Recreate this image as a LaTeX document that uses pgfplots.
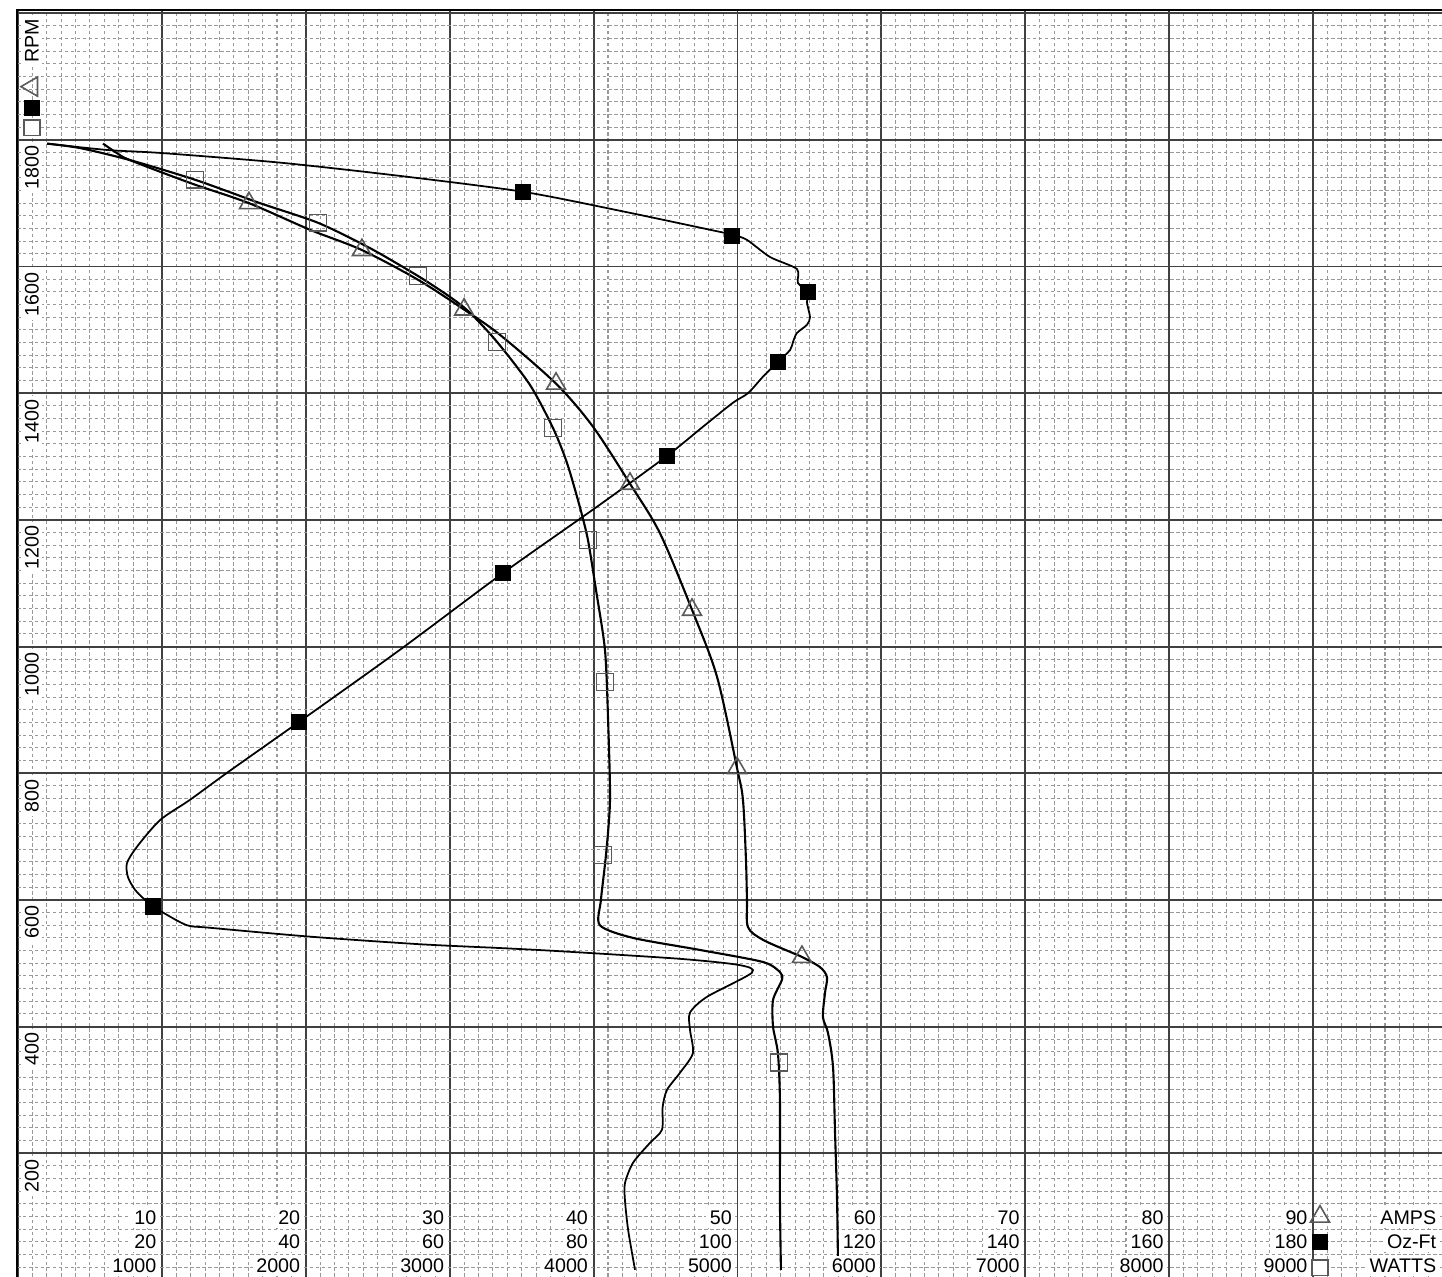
\documentclass[border=0pt]{standalone}
\usepackage{fontspec}
\setmainfont{Liberation Sans}
\usepackage{pgfplots}
\pgfplotsset{compat=1.18}
\usetikzlibrary{shapes.geometric}
\definecolor{mk}{gray}{0.35}
\begin{document}
\begin{tikzpicture}[font=\fontsize{5.6}{6.7}\selectfont,
  lbl/.style={fill=white, inner sep=1pt},
  tri/.style={regular polygon, regular polygon sides=3, draw=mk, line width=0.45pt, minimum size=2.2mm, inner sep=0pt},
  sqo/.style={rectangle, draw=mk, line width=0.45pt, minimum size=1.55mm, inner sep=0pt, fill=white},
  sqf/.style={rectangle, draw=black, fill=black, minimum size=1.45mm, inner sep=0pt}]
\begin{axis}[
  scale only axis, width=14.25cm, height=12.67cm,
  xmin=-0.07, xmax=98.96, ymin=4.7, ymax=2005,
  xtick={0,10,...,90}, ytick={0,200,...,2000},
  minor xtick={0,1,...,99}, minor ytick={0,20,...,2000},
  xticklabels={}, yticklabels={},
  major tick length=0pt, minor tick length=0pt,
  grid=both,
  major grid style={black!75, line width=0.55pt},
  minor grid style={black!40, line width=0.3pt, dash pattern=on 1pt off 0.7pt},
  axis line style={draw=none},
  clip=false,
]
% Oz-Ft curve (plotted on half scale: value/2)
\addplot[black, line width=0.5pt, smooth, tension=0.45] coordinates {
(2.02,1794) (6.18,1784) (10.08,1779) (18.21,1764) (26.55,1743) (35.09,1718)
(41.83,1688) (48.09,1658) (49.69,1650) (50.66,1642) (52.26,1615) (54.13,1596)
(54.20,1574) (54.90,1560) (54.83,1543) (55.04,1520) (54.83,1508) (54.13,1495)
(53.86,1481) (53.65,1468) (52.74,1448) (51.77,1426) (50.73,1400) (49.69,1385)
(47.60,1347) (45.10,1301) (40.44,1224) (33.70,1116) (26.55,995) (19.53,881)
(14.73,804) (11.95,758) (9.87,726) (8.27,684) (7.57,658) (7.64,636) (8.13,616)
(8.83,600) (9.38,590) (10.08,580) (11.74,560) (13.34,556) (20.29,542) (27.94,530)
(33.50,524) (37.66,519) (46.00,507) (50.17,497) (51.00,485) (47.88,447) (46.70,422)
(46.70,395) (46.90,358) (46.00,327) (45.10,300) (44.80,273) (44.75,237) (43.90,216)
(42.74,185) (42.18,153) (42.18,126) (42.40,79) (42.88,16)};
% WATTS curve (value/100)
\addplot[black, line width=0.6pt, smooth, tension=0.45] coordinates {
(2.02,1794) (4.31,1787) (7.78,1768) (12.30,1737) (16.82,1700) (20.85,1669)
(24.46,1629) (27.80,1585) (30.02,1552) (31.41,1527) (33.29,1481) (35.58,1413)
(37.18,1345) (38.15,1290) (39.05,1220) (39.61,1168) (40.17,1089) (40.79,995)
(41.00,889) (41.14,758) (40.86,671) (40.51,600) (40.44,560) (42.74,540)
(47.39,521) (51.77,502) (52.95,486) (53.09,474) (52.47,442) (52.47,400)
(52.81,358) (52.95,284) (52.95,126) (53.02,16)};
% AMPS curve
\addplot[black, line width=0.6pt, smooth, tension=0.5] coordinates {
(5.91,1794) (6.88,1779) (7.78,1768) (11.95,1732) (16.05,1700) (20.29,1658)
(23.90,1626) (27.80,1579) (31.00,1532) (33.50,1492) (37.39,1415) (39.96,1347)
(42.53,1257) (44.61,1179) (46.84,1058) (48.58,952) (49.97,808) (50.38,758)
(50.59,663) (50.66,600) (50.73,557) (51.77,537) (53.86,516) (54.48,510)
(55.73,494) (56.22,478) (56.08,453) (55.94,415) (56.29,390) (56.64,336)
(56.78,232) (56.92,126) (56.99,16)};
% markers
\addplot[only marks, mark=square*, mark size=2.15pt, mark options={fill=black, draw=black}] coordinates {
(35.09,1718) (49.62,1648) (54.90,1560) (52.81,1449) (45.10,1301) (33.70,1116) (19.53,881) (9.38,590)};
\addplot[only marks, mark=square, mark size=2.4pt, mark options={draw=mk, line width=0.45pt}] coordinates {
(12.30,1737) (20.85,1669) (27.80,1585) (33.29,1481) (37.18,1345) (39.61,1168) (40.79,944) (40.65,671) (52.88,343)};
\addplot[only marks, mark=triangle, mark size=3.1pt, mark options={draw=mk, line width=0.45pt}] coordinates {
(16.05,1700) (23.90,1626) (31.00,1532) (37.39,1415) (42.53,1257) (46.84,1058) (49.97,808) (54.48,510)};

% borders
\draw[black, line width=0.75pt] (rel axis cs:0,0) -- (rel axis cs:0,1) -- (rel axis cs:1,1);
\coordinate (SW) at (rel axis cs:0,0);
\coordinate (NE) at (rel axis cs:1,1);

% left rotated labels
\node[lbl, rotate=90, anchor=east] at (axis cs:0.97,1998) {RPM};
\node[tri, shape border rotate=90] at (axis cs:0.97,1884) {};
\node[sqf] at (axis cs:0.97,1850) {};
\node[sqo] at (axis cs:0.97,1819) {};
\node[lbl, rotate=90, anchor=east] at (axis cs:0.97,1797) {1800};
\node[lbl, rotate=90, anchor=east] at (axis cs:0.97,1597) {1600};
\node[lbl, rotate=90, anchor=east] at (axis cs:0.97,1397) {1400};
\node[lbl, rotate=90, anchor=east] at (axis cs:0.97,1197) {1200};
\node[lbl, rotate=90, anchor=east] at (axis cs:0.97,997) {1000};
\node[lbl, rotate=90, anchor=east] at (axis cs:0.97,797) {800};
\node[lbl, rotate=90, anchor=east] at (axis cs:0.97,597) {600};
\node[lbl, rotate=90, anchor=east] at (axis cs:0.97,397) {400};
\node[lbl, rotate=90, anchor=east] at (axis cs:0.97,197) {200};

% bottom scale labels
\node[lbl, anchor=east] at (axis cs:9.9,97.9) {10};
\node[lbl, anchor=east] at (axis cs:19.9,97.9) {20};
\node[lbl, anchor=east] at (axis cs:29.9,97.9) {30};
\node[lbl, anchor=east] at (axis cs:39.9,97.9) {40};
\node[lbl, anchor=east] at (axis cs:49.9,97.9) {50};
\node[lbl, anchor=east] at (axis cs:59.9,97.9) {60};
\node[lbl, anchor=east] at (axis cs:69.9,97.9) {70};
\node[lbl, anchor=east] at (axis cs:79.9,97.9) {80};
\node[lbl, anchor=east] at (axis cs:89.9,97.9) {90};
\node[lbl, anchor=east] at (axis cs:9.9,60) {20};
\node[lbl, anchor=east] at (axis cs:19.9,60) {40};
\node[lbl, anchor=east] at (axis cs:29.9,60) {60};
\node[lbl, anchor=east] at (axis cs:39.9,60) {80};
\node[lbl, anchor=east] at (axis cs:49.9,60) {100};
\node[lbl, anchor=east] at (axis cs:59.9,60) {120};
\node[lbl, anchor=east] at (axis cs:69.9,60) {140};
\node[lbl, anchor=east] at (axis cs:79.9,60) {160};
\node[lbl, anchor=east] at (axis cs:89.9,60) {180};
\node[lbl, anchor=east] at (axis cs:9.9,22) {1000};
\node[lbl, anchor=east] at (axis cs:19.9,22) {2000};
\node[lbl, anchor=east] at (axis cs:29.9,22) {3000};
\node[lbl, anchor=east] at (axis cs:39.9,22) {4000};
\node[lbl, anchor=east] at (axis cs:49.9,22) {5000};
\node[lbl, anchor=east] at (axis cs:59.9,22) {6000};
\node[lbl, anchor=east] at (axis cs:69.9,22) {7000};
\node[lbl, anchor=east] at (axis cs:79.9,22) {8000};
\node[lbl, anchor=east] at (axis cs:89.9,22) {9000};

% bottom-right legend
\node[tri] at (axis cs:90.48,100) {};
\node[sqf] at (axis cs:90.48,60) {};
\node[sqo] at (axis cs:90.48,19) {};
\node[lbl, anchor=east] at (axis cs:98.85,97.9) {AMPS};
\node[lbl, anchor=east] at (axis cs:98.85,60) {Oz-Ft};
\node[lbl, anchor=east] at (axis cs:98.85,22) {WATTS};
\end{axis}
\pgfresetboundingbox
\path[use as bounding box] ([xshift=-0.17cm]SW) rectangle ([yshift=0.10cm]NE);
\end{tikzpicture}
\end{document}
